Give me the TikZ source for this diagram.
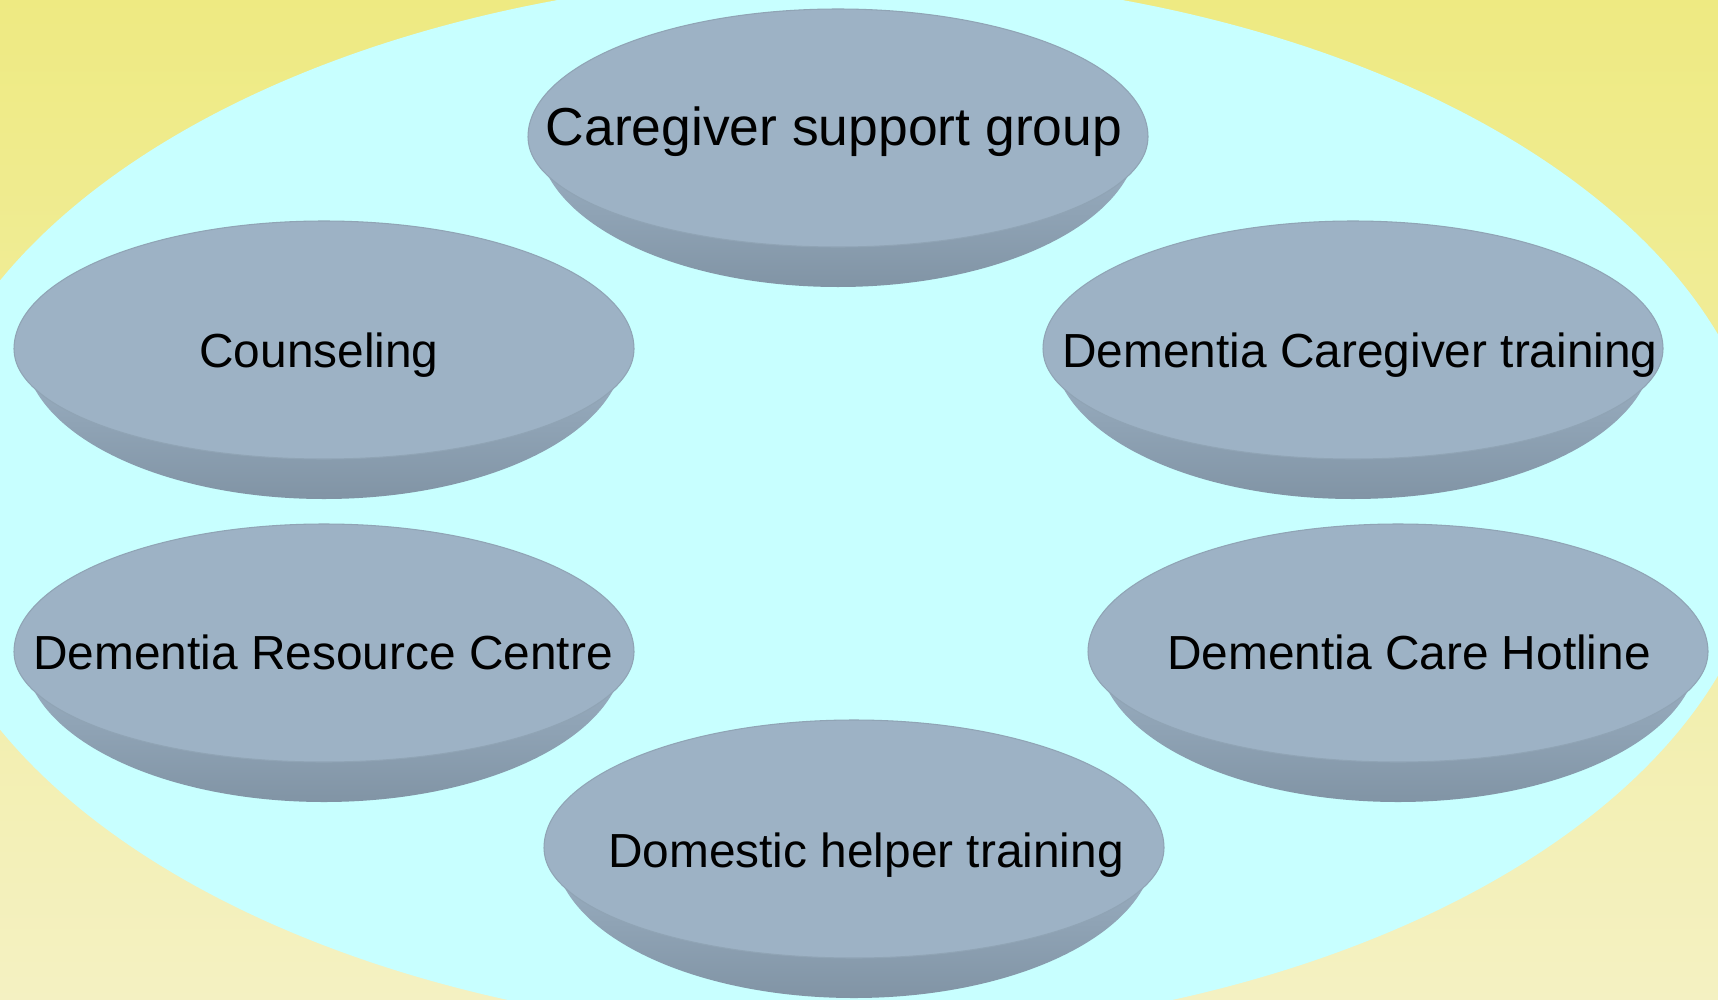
\documentclass[tikz,border=0pt]{standalone}
\usepackage{fontspec}
\setmainfont{Liberation Sans}
\usepackage{tikz}
\definecolor{bgtop}{HTML}{EEEA82}
\definecolor{bgbot}{HTML}{F4F1C2}
\definecolor{ring}{HTML}{C8FFFF}
\definecolor{platetop}{HTML}{9DB2C5}
\definecolor{platerim}{HTML}{8194A5}
\definecolor{plateedge}{HTML}{90A4B5}

% one plate: centre x, centre y
\newcommand{\plate}[2]{%
  \shade[rim] (#1-300,#2) arc[start angle=180, end angle=360, x radius=300, y radius=150] -- cycle;
  \fill[face] (#1-310,#2) arc[start angle=180, end angle=0, x radius=310, y radius=128]
    arc[start angle=0, end angle=-180, x radius=310, y radius=110] -- cycle;
}

\begin{document}
\begin{tikzpicture}[x=0.01cm, y=0.01cm,
    face/.style = {fill=platetop, draw=plateedge, line width=0.3pt},
    rim/.style = {top color=platetop, bottom color=platerim},
    lbl/.style = {anchor=base, inner sep=0pt, font=\fontsize{13.6}{16}\selectfont},
    big/.style = {font=\fontsize{15.2}{18}\selectfont}]
        \useasboundingbox (0,0) rectangle (1718,-1000);
        \clip (0,0) rectangle (1718,-1000);
        \shade[top color=bgtop, bottom color=bgbot] (0,0) rectangle (1718,-1000);
        \fill[ring] (840,-505) ellipse [x radius=927, y radius=530];

        \plate{838}{-137}
        \plate{324}{-349}
        \plate{1353}{-349}
        \plate{324}{-652}
        \plate{1398}{-652}
        \plate{854}{-848}

        \node[lbl, big] (1) at (834,-145) {Caregiver support group};
        \node[lbl] (2) at (319,-367) {Counseling};
        \node[lbl] (3) at (1360,-367) {Dementia Caregiver training};
        \node[lbl] (4) at (323,-669) {Dementia Resource Centre};
        \node[lbl] (5) at (1409,-669) {Dementia Care Hotline};
        \node[lbl] (6) at (866,-867) {Domestic helper training};
    \end{tikzpicture}
\end{document}
